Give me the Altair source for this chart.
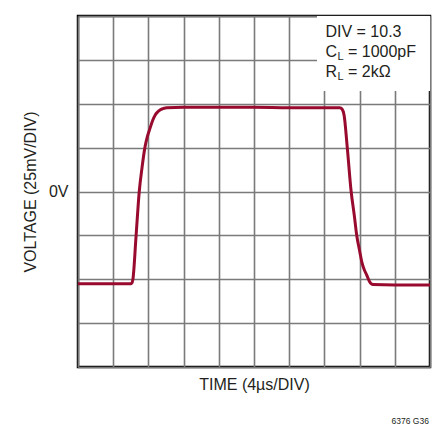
import altair as alt
import pandas as pd

# time in divisions (4us/DIV), voltage in divisions (25mV/DIV), 0V at 0
t = [0, 1.0, 1.5, 1.525, 1.56, 1.65, 1.74, 1.82, 1.90, 1.97, 2.05, 2.12, 2.19, 2.26, 2.33, 2.42, 2.52,
     3.0, 4.0, 5.0, 6.0, 7.0, 7.44, 7.5, 7.56, 7.65, 7.76, 7.85, 7.92, 8.0, 8.06, 8.13, 8.20, 8.28,
     8.38, 9.0, 10.0]
v = [-2.10, -2.10, -2.10, -2.09, -2.0, -1.01, 0.0, 0.55, 1.0, 1.25, 1.45, 1.62, 1.74, 1.81, 1.86, 1.89, 1.91,
     1.92, 1.92, 1.92, 1.91, 1.91, 1.91, 1.88, 1.74, 1.0, 0.0, -0.55, -1.01, -1.35, -1.6, -1.78, -1.9, -2.05,
     -2.12, -2.13, -2.13]

x_grid = list(range(0, 11))
y_grid = list(range(-4, 5))

ann_text = ["DIV = 10.3", "C", "L", "= 1000pF", "R", "L", "= 2kΩ"]
ann_x = [7.03, 7.03, 7.37, 7.67, 7.03, 7.37, 7.67]
ann_y = [3.52, 3.07, 3.00, 3.07, 2.61, 2.54, 2.61]
ann_size = [16, 16, 11, 16, 16, 11, 16]

FONT = "Liberation Sans"
TXT = "#231f20"
GRID = "#7a7a7a"

df = pd.DataFrame({"t": t, "v": v, "order": list(range(len(t)))})
ann = pd.DataFrame({"x": ann_x, "y": ann_y, "text": ann_text, "fs": ann_size})
box = pd.DataFrame({"x1": [6.79], "x2": [10.0], "y1": [2.29], "y2": [4.0]})
foot = pd.DataFrame({"x": [9.97], "y": [-5.23], "text": ["6376 G36"]})

xs = alt.Scale(domain=[0, 10], nice=False, zero=False)
ys = alt.Scale(domain=[-4, 4], nice=False, zero=False)

x_axis = alt.Axis(values=x_grid, grid=True, labels=False, ticks=False, domain=False,
                  title="TIME (4µs/DIV)", titleFont=FONT, titleFontSize=16, titleFontWeight="normal",
                  titleColor=TXT, titlePadding=9, gridColor=GRID, gridWidth=1.6, gridOpacity=1)
y_axis = alt.Axis(values=y_grid, grid=True, ticks=False, domain=False,
                  labelExpr="datum.value == 0 ? '0V' : ''", labelFont=FONT, labelFontSize=16,
                  labelColor=TXT, labelPadding=10,
                  title="VOLTAGE (25mV/DIV)", titleFont=FONT, titleFontSize=16, titleFontWeight="normal",
                  titleColor=TXT, titlePadding=10, gridColor=GRID, gridWidth=1.6, gridOpacity=1)

cover = alt.Chart(box).mark_rect(fill="white").encode(
    x=alt.X("x1:Q", scale=xs, axis=x_axis, title="TIME (4µs/DIV)"), x2="x2",
    y=alt.Y("y1:Q", scale=ys, axis=y_axis, title="VOLTAGE (25mV/DIV)"), y2="y2"
)

trace = alt.Chart(df).mark_line(color="#990a2f", strokeWidth=3, interpolate="monotone").encode(
    x=alt.X("t:Q", scale=xs, axis=x_axis, title="TIME (4µs/DIV)"),
    y=alt.Y("v:Q", scale=ys, axis=y_axis, title="VOLTAGE (25mV/DIV)"),
    order="order:Q",
)

labels = alt.Chart(ann).mark_text(align="left", baseline="alphabetic", font=FONT, color=TXT).encode(
    x=alt.X("x:Q", scale=xs, axis=x_axis, title="TIME (4µs/DIV)"),
    y=alt.Y("y:Q", scale=ys, axis=y_axis, title="VOLTAGE (25mV/DIV)"),
    text="text:N",
    size=alt.Size("fs:Q", scale=None, legend=None),
)

footnote = alt.Chart(foot).mark_text(align="right", baseline="middle", font=FONT, fontSize=8.5, color=TXT).encode(
    x=alt.X("x:Q", scale=xs, axis=x_axis, title="TIME (4µs/DIV)"),
    y=alt.Y("y:Q", scale=ys, axis=y_axis, title="VOLTAGE (25mV/DIV)"),
    text="text:N",
)

chart = alt.layer(cover, trace, labels, footnote).properties(
    width=352, height=351,
    autosize=alt.AutoSizeParams(type="none"),
    padding={"left": 70, "top": 8, "right": 8, "bottom": 60},
).configure_view(stroke="black", strokeWidth=2.5)

chart.save("out.html", embed_options={"renderer": "svg", "actions": False})
